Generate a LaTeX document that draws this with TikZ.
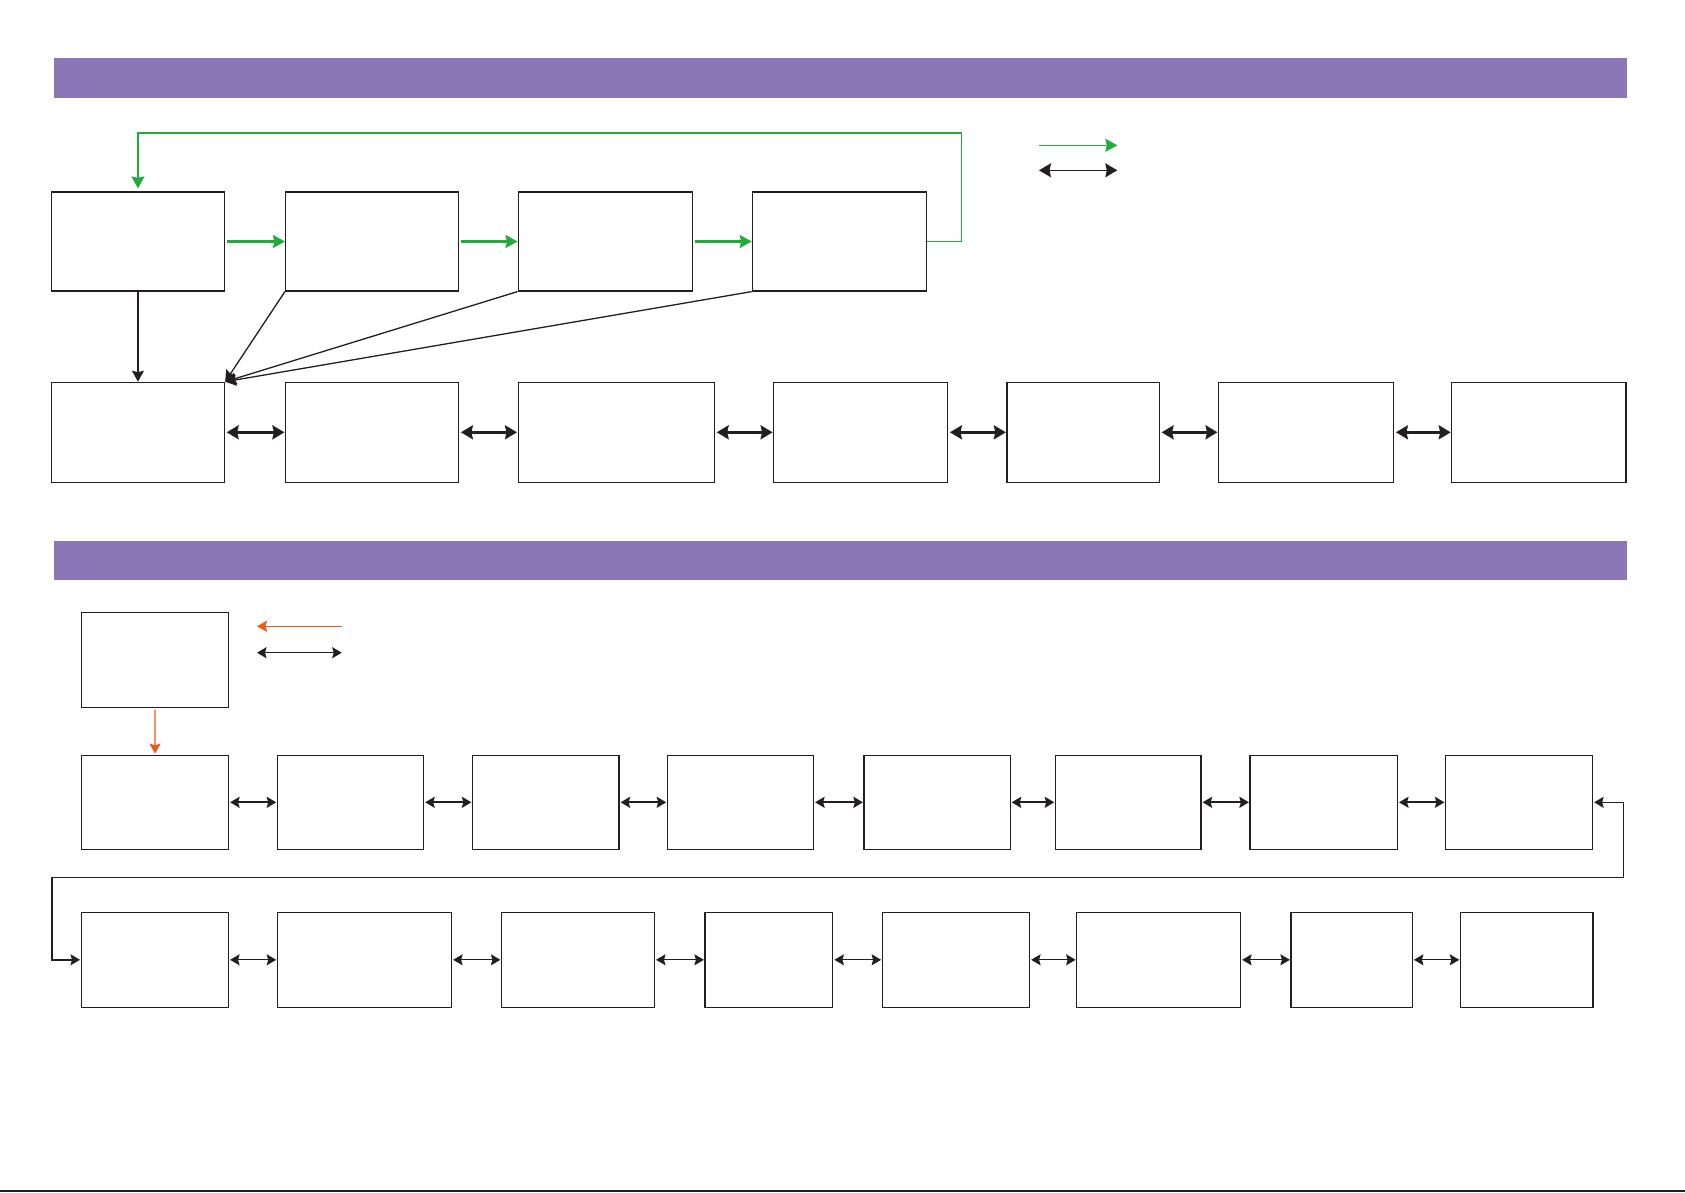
\documentclass[tikz,border=0pt]{standalone}
\usepackage{tikz}
\usetikzlibrary{arrows.meta, positioning}
\definecolor{bandpurple}{RGB}{139,119,181}
\definecolor{flowgreen}{RGB}{34,170,58}
\definecolor{flowred}{RGB}{232,90,30}
\definecolor{boxline}{RGB}{35,31,32}
\tikzset{
  stagebox/.style={rectangle, draw=boxline, line width=1.2pt,
    inner sep=0pt, fill=white},
  band/.style={fill=bandpurple, draw=none},
  greenflow/.style={-{Stealth[length=12pt,width=13pt,inset=1.5pt]},
    line width=2.2pt, color=flowgreen},
  greenloop/.style={-{Stealth[length=12pt,width=13pt,inset=1.5pt]},
    line width=1.4pt, color=flowgreen},
  link/.style={{Stealth[length=12pt,width=14pt,inset=1.5pt]}-{Stealth[length=12pt,width=14pt,inset=1.5pt]},
    line width=2.4pt, color=boxline},
  linkmid/.style={{Stealth[length=9.5pt,width=11pt,inset=1.5pt]}-{Stealth[length=9.5pt,width=11pt,inset=1.5pt]},
    line width=2pt, color=boxline},
  linkthin/.style={{Stealth[length=9.5pt,width=11pt,inset=1.5pt]}-{Stealth[length=9.5pt,width=11pt,inset=1.5pt]},
    line width=1.1pt, color=boxline},
  feed/.style={-{Stealth[length=11pt,width=12pt,inset=1.5pt]}, line width=1.3pt, color=boxline},
  redflow/.style={-{Stealth[length=10pt,width=11pt,inset=1.5pt]}, line width=1.3pt, color=flowred},
}

\begin{document}
\begin{tikzpicture}[x=1pt, y=-1pt]
  \useasboundingbox (0,0) rectangle (1685,1192);

  % header bands
  \fill[band] (54,58) rectangle (1627,98);
  \fill[band] (54,541) rectangle (1627,580);

  % top section
  \foreach \n/\xa/\xb in {a1/51.3/224.6, a2/285.5/458.8, a3/518.1/692.6, a4/752.3/926.4}{
    \node[stagebox, minimum width={(\xb-\xa)*1pt}, minimum height=99pt]
      (\n) at ({(\xa+\xb)/2},241.5) {};
  }
  \foreach \n/\xa/\xb in {b1/51.3/224.6, b2/285.5/458.8, b3/518.1/714.6, b4/773.7/947.8,
    b5/1006.9/1159.5, b6/1218.6/1393.8, b7/1451.8/1625.9}{
    \node[stagebox, minimum width={(\xb-\xa)*1pt}, minimum height=100pt]
      (\n) at ({(\xa+\xb)/2},432.3) {};
  }

  \foreach \s/\t in {a1/a2, a2/a3, a3/a4}
    \draw[greenflow, shorten <=2pt] (\s.east) -- (\t.west);
  \coordinate (loopR) at (961.2,133);
  \draw[greenloop, shorten >=3pt] (a4.east) -| (loopR) -| (a1.north);

  \draw[feed] (a1.south) -- (b1.north);
  \foreach \s in {a2, a3, a4}
    \draw[feed] (\s.south west) -- (b1.north east);

  \foreach \s/\t in {b1/b2, b2/b3, b3/b4, b4/b5, b5/b6, b6/b7}
    \draw[link, shorten <=1.5pt, shorten >=0.5pt] (\s.east) -- (\t.west);

  \coordinate (lgA) at (1039,145.3);
  \coordinate (lgB) at (1117.3,145.3);
  \coordinate (lgC) at (1039,170.3);
  \coordinate (lgD) at (1117.3,170.3);
  \draw[greenflow, line width=1pt] (lgA) -- (lgB);
  \draw[link, line width=1.3pt] (lgC) -- (lgD);

  % bottom section
  \node[stagebox, minimum width=147pt, minimum height=95pt] (c0) at (155,659.8) {};
  \foreach \n/\xa/\xb in {c1/81.6/228.5, c2/277.3/423.6, c3/472.5/619, c4/667.3/813.5,
    c5/864/1010.1, c6/1055.3/1201, c7/1250/1397.4, c8/1445.5/1592.5}{
    \node[stagebox, minimum width={(\xb-\xa)*1pt}, minimum height=94pt]
      (\n) at ({(\xa+\xb)/2},802.3) {};
  }
  \foreach \n/\xa/\xb in {d1/81.6/228.5, d2/277.3/451.5, d3/501.5/654.4, d4/705/832.8,
    d5/882.2/1029.5, d6/1076.7/1240.5, d7/1291/1412.3, d8/1460.4/1593}{
    \node[stagebox, minimum width={(\xb-\xa)*1pt}, minimum height=95pt]
      (\n) at ({(\xa+\xb)/2},959.8) {};
  }

  \draw[redflow, shorten <=2pt, shorten >=1pt] (c0.south) -- (c1.north);

  \foreach \s/\t in {c1/c2, c2/c3, c3/c4, c4/c5, c5/c6, c6/c7, c7/c8}
    \draw[linkmid, shorten <=1pt, shorten >=0.5pt] (\s.east) -- (\t.west);
  \foreach \s/\t in {d1/d2, d2/d3, d3/d4, d4/d5, d5/d6, d6/d7, d7/d8}
    \draw[linkthin, shorten <=1pt, shorten >=0.5pt] (\s.east) -- (\t.west);

  \coordinate (turnR) at (1623.5,877.3);
  \coordinate (turnL) at (51.7,877.3);
  \draw[linkmid, line width=1.6pt, shorten <=1pt, shorten >=1pt]
    (c8.east) -| (turnR) -- (turnL) |- (d1.west);

  \coordinate (lgE) at (257,626.3);
  \coordinate (lgF) at (341.7,626.3);
  \coordinate (lgG) at (257,652.7);
  \coordinate (lgH) at (341.7,652.7);
  \draw[redflow, line width=1pt] (lgF) -- (lgE);
  \draw[linkmid, line width=1.5pt] (lgG) -- (lgH);

  \draw[line width=1.5pt, boxline] (0,1191) -- (1685,1191);
\end{tikzpicture}
\end{document}
